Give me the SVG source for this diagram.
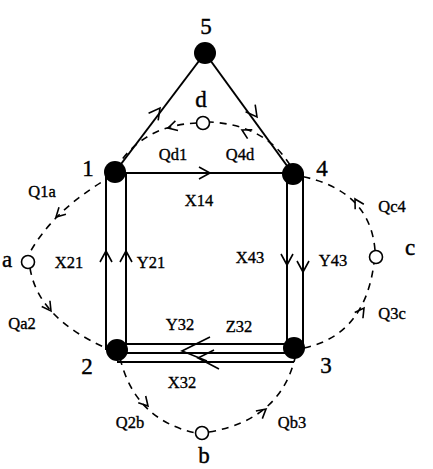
<svg xmlns="http://www.w3.org/2000/svg" xmlns:xlink="http://www.w3.org/1999/xlink" width="433" height="469" viewBox="0 0 433 469">
<style>
.ln{stroke:#000;stroke-width:2;fill:none}
.ds{stroke:#000;stroke-width:1.6;fill:none;stroke-dasharray:7 6}
.ah{stroke:#000;stroke-width:1.6;fill:none}
.nd{fill:#000}
.op{fill:#fff;stroke:#000;stroke-width:1.6}
.big{font-family:"Liberation Serif","Times New Roman",serif;font-size:23px;text-anchor:middle;stroke:#000;stroke-width:0.4}
.sm{font-family:"Liberation Serif","Times New Roman",serif;font-size:16.5px;text-anchor:middle;stroke:#000;stroke-width:0.35}
</style>
<defs>
<path id="ch" d="M-11,-6 L0,0 L-11,6"/>
<path id="cd" d="M-9,-5 L0,0 L-9,5"/>
</defs>
<rect width="433" height="469" fill="#fff"/>
<g id="connectors">
<line class="ln" x1="115" y1="172" x2="205" y2="53"/>
<line class="ln" x1="205" y1="53" x2="293" y2="174"/>
<line class="ln" x1="115" y1="173" x2="293" y2="173"/>
<line class="ln" x1="106" y1="172" x2="106" y2="350"/>
<polyline class="ln" points="126,172 126,344 287,344 287,174"/>
<line class="ln" x1="303" y1="174" x2="303" y2="348"/>
<line class="ln" x1="117" y1="353" x2="294" y2="353"/>
<line class="ln" x1="117" y1="362" x2="294" y2="362"/>
<use href="#ch" class="ah" transform="translate(160,108) rotate(-53)"/>
<use href="#ch" class="ah" transform="translate(257,117) rotate(53)"/>
<use href="#ch" class="ah" transform="translate(210,173)"/>
<use href="#ch" class="ah" transform="translate(106,251) rotate(-90)"/>
<use href="#ch" class="ah" transform="translate(126,251) rotate(-90)"/>
<use href="#ch" class="ah" transform="translate(287,265) rotate(90)"/>
<use href="#ch" class="ah" transform="translate(303,272) rotate(90)"/>
<path class="ah" d="M210,337 L182,351 L207,361"/>
<path class="ah" d="M214,350 L198,358 L219,369"/>
<path class="ds" d="M112,176 Q52,210 28,256"/>
<path class="ds" d="M30,268 Q38,318 106,348"/>
<path class="ds" d="M120,358 Q135,420 196,433"/>
<path class="ds" d="M209,432 Q280,420 295,358"/>
<path class="ds" d="M304,348 Q365,335 374,263"/>
<path class="ds" d="M375,250 Q370,190 300,176"/>
<path class="ds" d="M290,165 Q265,125 210,122"/>
<path class="ds" d="M197,123 Q145,125 118,165"/>
<use href="#cd" class="ah" transform="translate(56,217) rotate(136)"/>
<use href="#cd" class="ah" transform="translate(51,311) rotate(55)"/>
<use href="#cd" class="ah" transform="translate(148,406) rotate(48)"/>
<use href="#cd" class="ah" transform="translate(266,409) rotate(-40)"/>
<use href="#cd" class="ah" transform="translate(364,308) rotate(-55)"/>
<use href="#cd" class="ah" transform="translate(355,199) rotate(-120)"/>
<use href="#cd" class="ah" transform="translate(242,130) rotate(-152)"/>
<use href="#cd" class="ah" transform="translate(168,128) rotate(165)"/>
</g>
<g id="node5"><circle class="nd" cx="205" cy="53" r="11"/><text class="big" x="206" y="34">5</text></g>
<g id="node1"><circle class="nd" cx="115" cy="172" r="11"/><text class="big" x="88" y="176">1</text></g>
<g id="node4"><circle class="nd" cx="293" cy="174" r="11"/><text class="big" x="322" y="176">4</text></g>
<g id="node2"><circle class="nd" cx="117" cy="350" r="11"/><text class="big" x="87" y="374">2</text></g>
<g id="node3"><circle class="nd" cx="294" cy="348" r="11"/><text class="big" x="326" y="373">3</text></g>
<g id="noded"><circle class="op" cx="203" cy="123" r="6.5"/><text class="big" x="201" y="107">d</text></g>
<g id="nodea"><circle class="op" cx="28" cy="262" r="6.5"/><text class="big" x="7" y="267">a</text></g>
<g id="nodec"><circle class="op" cx="376" cy="257" r="6.5"/><text class="big" x="410" y="255">c</text></g>
<g id="nodeb"><circle class="op" cx="202" cy="433" r="6.5"/><text class="big" x="204" y="463">b</text></g>
<g id="labels">
<text class="sm" x="173" y="160">Qd1</text>
<text class="sm" x="240" y="160">Q4d</text>
<text class="sm" x="199" y="206">X14</text>
<text class="sm" x="42" y="197">Q1a</text>
<text class="sm" x="392" y="212">Qc4</text>
<text class="sm" x="69" y="268">X21</text>
<text class="sm" x="151" y="268">Y21</text>
<text class="sm" x="250" y="263">X43</text>
<text class="sm" x="333" y="266">Y43</text>
<text class="sm" x="22" y="329">Qa2</text>
<text class="sm" x="392" y="319">Q3c</text>
<text class="sm" x="180" y="330">Y32</text>
<text class="sm" x="239" y="332">Z32</text>
<text class="sm" x="182" y="388">X32</text>
<text class="sm" x="130" y="428">Q2b</text>
<text class="sm" x="292" y="428">Qb3</text>
</g>
</svg>
